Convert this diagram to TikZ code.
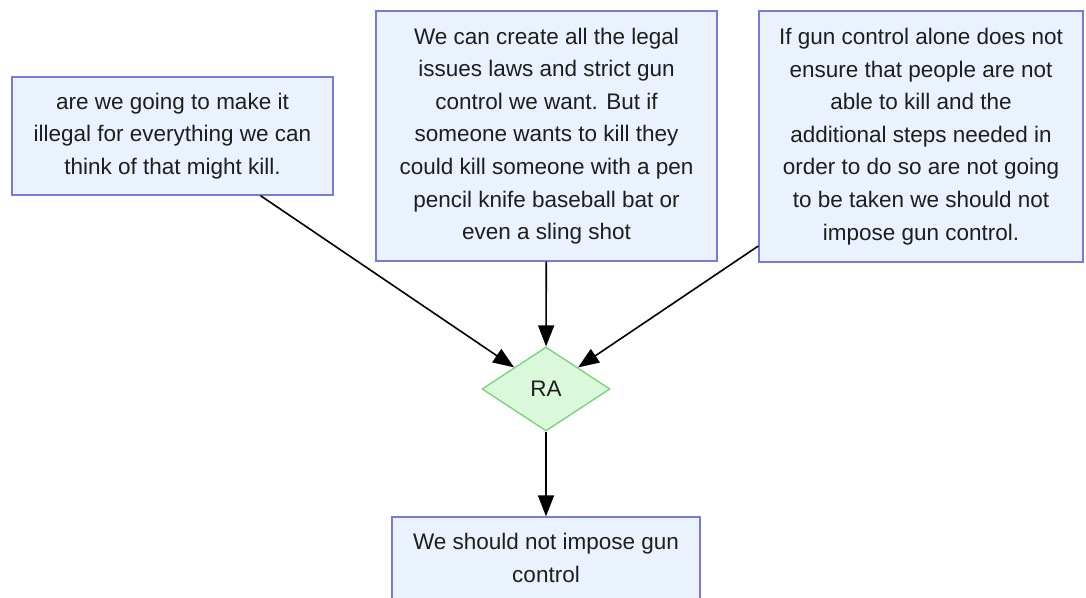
\documentclass[tikz,border=0pt]{standalone}
\usepackage{fontspec}
\setmainfont{Liberation Sans}
\usetikzlibrary{shapes.geometric,arrows.meta}
\definecolor{boxfill}{RGB}{234,242,253}
\definecolor{boxline}{RGB}{122,122,222}
\definecolor{rafill}{RGB}{218,249,218}
\definecolor{raline}{RGB}{118,212,118}
\definecolor{ink}{RGB}{30,30,30}
\tikzset{
  claim/.style={draw=boxline, fill=boxfill, line width=1.3pt, rectangle,
    align=center, inner sep=0pt, text=ink,
    font=\fontsize{22.5pt}{32.6pt}\selectfont},
  scheme/.style={draw=raline, fill=rafill, line width=1.3pt, diamond,
    inner sep=0pt, minimum width=128pt, minimum height=84pt, text=ink,
    font=\fontsize{22.5pt}{27pt}\selectfont},
  link/.style={draw=black, line width=1.6pt,
    -{Triangle[length=21pt,width=16pt]}}
}
\begin{document}
\begin{tikzpicture}[x=1pt,y=-1pt]
\useasboundingbox (0,0) rectangle (1086,597);
\node[claim, minimum width=321pt, minimum height=118pt] (left) at (172.5,136)
  {are we going to make it\\illegal for everything we can\\think of that might kill.};
\node[claim, minimum width=341pt, minimum height=250pt] (mid) at (546.5,136)
  {We can create all the legal\\issues laws and strict gun\\control we want. But if\\someone wants to kill they\\could kill someone with a pen\\pencil knife baseball bat or\\even a sling shot};
\node[claim, minimum width=324pt, minimum height=251pt] (right) at (921,136.5)
  {If gun control alone does not\\ensure that people are not\\able to kill and the\\additional steps needed in\\order to do so are not going\\to be taken we should not\\impose gun control.};
\node[scheme] (ra) at (546,389) {RA};
\node[claim, minimum width=308pt, minimum height=82pt] (concl) at (546,558)
  {We should not impose gun\\control};
\draw[link] (left) -- (ra);
\draw[link] (mid) -- (ra);
\draw[link] (right) -- (ra);
\draw[link] (ra) -- (concl);
\end{tikzpicture}
\end{document}
